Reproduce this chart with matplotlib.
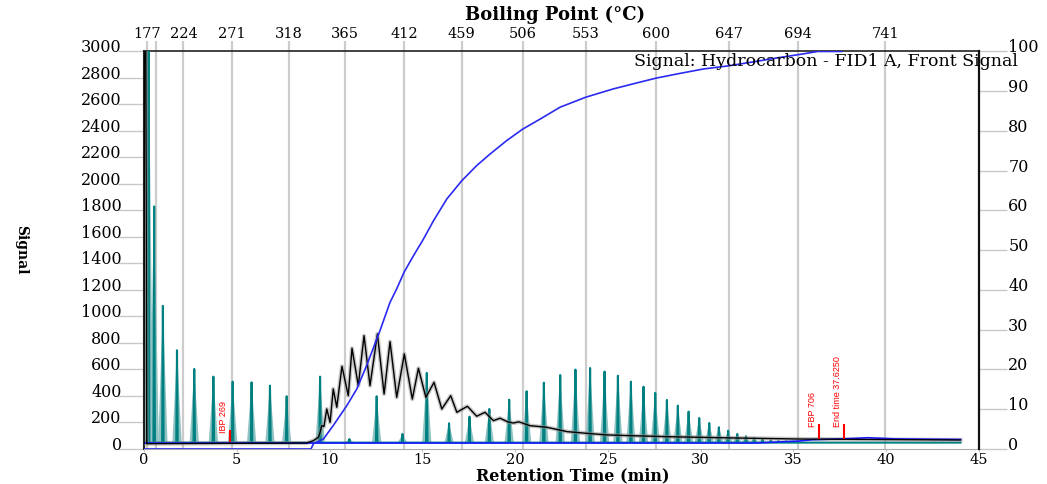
import numpy as np
import matplotlib.pyplot as plt

plt.rcParams['font.family'] = ['DejaVu Serif']

# calibration standard peaks (teal): retention time (min) and apex signal
std_rt = [0.25, 0.55, 1.02, 1.78, 2.71, 3.74, 4.78, 5.80, 6.79, 7.69,
          9.49, 11.07, 12.54, 13.93, 15.24, 16.44, 17.54, 18.61, 19.68, 20.62,
          21.55, 22.43, 23.25, 24.04, 24.82, 25.54, 26.24, 26.92, 27.55, 28.18,
          28.77, 29.35, 29.92, 30.46, 30.98, 31.48, 31.97, 32.44, 32.88, 33.33,
          33.78, 34.19, 34.61]
std_h = [3200, 1830, 1080, 745, 604, 546, 508, 503, 478, 398,
         546, 75, 398, 113, 574, 194, 244, 302, 372, 436,
         500, 558, 599, 611, 584, 553, 508, 470, 423, 370,
         327, 282, 234, 196, 164, 138, 113, 96, 83, 73,
         65, 60, 58]
std_base = 48
std_end = 44.0

# sample chromatogram (black)
smp_t = [0.0, 0.03, 0.10, 0.15, 8.77, 9.13, 9.40, 9.50, 9.58, 9.70,
         9.85, 10.03, 10.20, 10.39, 10.67, 11.01, 11.21, 11.55, 11.86, 12.18,
         12.58, 12.94, 13.26, 13.62, 14.03, 14.46, 14.79, 15.19, 15.63, 16.05,
         16.53, 16.86, 17.43, 17.93, 18.38, 18.83, 19.19, 19.60, 19.91, 20.20,
         20.80, 21.70, 22.80, 23.87, 24.95, 26.38, 28.18, 29.97, 32.70, 35.40,
         38.96, 44.00]
smp_s = [40, 3200, 3200, 40, 45, 63, 88, 130, 176, 170,
         302, 201, 453, 315, 624, 402, 760, 478, 855, 478,
         868, 415, 810, 390, 717, 377, 609, 390, 503, 302,
         402, 277, 322, 247, 277, 214, 232, 205, 196, 205,
         176, 164, 131, 118, 106, 100, 93, 88, 81, 75,
         72, 68]

# blank run (blue, signal axis)
blank_t = [0.0, 33.0, 35.3, 36.0, 38.0, 39.0, 40.5, 44.0]
blank_s = [45, 45, 60, 70, 78, 85, 76, 72]

# cumulative recovery (%), right axis
cum_t = [0.0, 9.0, 9.13, 9.67, 10.2, 10.93, 11.47, 12.0, 12.72, 13.26,
         13.62, 14.02, 14.52, 15.06, 15.6, 16.32, 17.13, 17.93, 18.65, 19.55,
         20.42, 21.35, 22.43, 23.81, 25.3, 26.74, 27.6, 28.9, 30.15, 31.52,
         32.85, 34.28, 35.4, 36.3, 37.6]
cum_pct = [0, 0, 1.3, 2.5, 5.9, 10.9, 15.1, 21.0, 29.8, 36.9,
           40.3, 44.5, 48.6, 52.8, 57.4, 62.9, 67.5, 71.3, 74.2, 77.6,
           80.5, 83.0, 86.0, 88.5, 90.6, 92.3, 93.3, 94.5, 95.6, 96.4,
           97.4, 98.5, 99.3, 100, 100]

# boiling point scale (top axis)
bp_t = [0.16, 0.65, 2.13, 4.73, 7.82, 10.84, 14.02, 17.13, 20.42, 23.81,
        27.6, 31.52, 35.26, 39.95]
bp_lab = ['177', '', '224', '271', '318', '365', '412', '459', '506', '553',
          '600', '647', '694', '741']

# markers
mark_t = [4.64, 36.4, 37.7]
mark_lab = ['IBP 269', 'FBP 706', 'End time 37.6250']
mark_lo = [50, 75, 75]
mark_hi = [140, 185, 185]

grey = '#c8c8c8'

fig = plt.figure(figsize=(10.47, 4.85), dpi=100)
ax = fig.add_axes([0.1375, 0.0722, 0.7976, 0.8196])
ax.set_xlim(0, 45)
ax.set_ylim(0, 3000)

# teal standard: light peak bodies + dark centre line
w_light, w_dark = 0.25, 0.04
for t, h in zip(std_rt, std_h):
    ax.fill([t - w_light, t, t + w_light], [std_base, h, std_base],
            color='#8fc3c3', lw=0, zorder=2)
dx, dy = [0.0], [std_base]
for t, h in zip(std_rt, std_h):
    dx += [t - w_dark, t, t + w_dark]
    dy += [std_base, h, std_base]
dx.append(std_end)
dy.append(std_base)
ax.plot(dx, dy, color='#008080', lw=1.5, zorder=3)

# sample trace
ax.plot(smp_t, smp_s, color='#909090', lw=3, alpha=0.5, zorder=4)
ax.plot(smp_t, smp_s, color='black', lw=1.0, zorder=5)

# blank
ax.plot(blank_t, blank_s, color='#1a1aff', lw=1.2, zorder=4)

# markers
for t, lab, lo, hi in zip(mark_t, mark_lab, mark_lo, mark_hi):
    ax.vlines(t, lo, hi, color='red', lw=1.5, zorder=6)
    ax.text(t - 0.35, hi - 10, lab, rotation=90, ha='center', va='bottom',
            color='red', fontsize=6.5, family=['Liberation Sans', 'DejaVu Sans'],
            zorder=6)

# grid at boiling point positions
ax.set_xticks(bp_t, minor=True)
ax.xaxis.grid(True, which='minor', color='#cccccc', lw=1.6)
ax.set_axisbelow(True)

ax.set_xticks(range(0, 46, 5))
ax.set_yticks(range(0, 3001, 200))
ax.tick_params(axis='x', which='major', direction='out', length=2.5, color=grey,
               labelsize=10.5, pad=-0.5)
ax.tick_params(axis='x', which='minor', length=0)
ax.tick_params(axis='y', direction='out', length=19, width=1, color=grey,
               labelsize=11.5, pad=-3)
for lab in ax.get_yticklabels():
    lab.set_va('baseline')

ax.spines['top'].set_color('#222222')
ax.spines['top'].set_linewidth(1.2)
ax.spines['left'].set_color('#222222')
ax.spines['left'].set_linewidth(1.5)
ax.spines['bottom'].set_color('#aaaaaa')
ax.spines['right'].set_visible(False)

# right axis: cumulative %
ax2 = ax.twinx()
ax2.set_ylim(0, 100)
ax2.plot(cum_t, cum_pct, color='#2a2af0', lw=1.2)
ax2.set_yticks(range(0, 101, 10))
ax2.tick_params(axis='y', direction='out', length=20, width=1, color=grey,
                labelsize=11.5, pad=1)
for lab in ax2.get_yticklabels():
    lab.set_va('baseline')
for s in ['top', 'left', 'bottom']:
    ax2.spines[s].set_visible(False)
ax2.spines['right'].set_color('#111111')
ax2.spines['right'].set_linewidth(1.6)

# top axis: boiling point
sec = ax.secondary_xaxis('top')
sec.set_xticks(bp_t, labels=bp_lab)
sec.tick_params(direction='out', length=7.5, width=1.6, color='#cccccc',
                labelsize=10.5, pad=1)
sec.spines['top'].set_visible(False)

fig.text(0.53, 1 - 20 / 485, 'Boiling Point (°C)', ha='center', va='baseline',
         fontsize=13, fontweight='bold')
fig.text(0.547, 1 / 485, 'Retention Time (min)', ha='center', va='bottom',
         fontsize=11.5, fontweight='bold')
fig.text(0.02, 0.4845, 'Signal', ha='center', va='center', rotation=270,
         fontsize=10, fontweight='bold')
fig.text(1018 / 1047, 1 - 61 / 485, 'Signal: Hydrocarbon - FID1 A, Front Signal',
         ha='right', va='center', fontsize=12.5)

fig.savefig('out.png', dpi=100)
